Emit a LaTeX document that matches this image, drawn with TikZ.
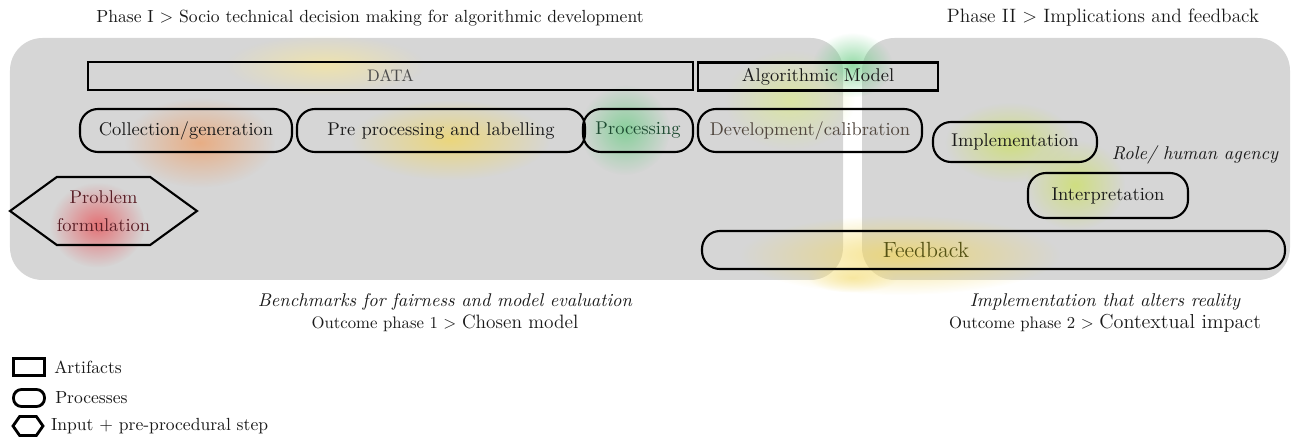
\documentclass[tikz,border=0pt]{standalone}
\usepackage{tikz}
\definecolor{panelgray}{RGB}{214,214,214}
\definecolor{inkgray}{RGB}{25,25,25}
\definecolor{datagray}{RGB}{75,75,75}
\definecolor{glowred}{RGB}{232,80,85}
\definecolor{gloworange}{RGB}{238,160,105}
\definecolor{glowyellow}{RGB}{242,215,95}
\definecolor{glowgreen}{RGB}{110,205,135}
\definecolor{glowlime}{RGB}{205,225,100}
\definecolor{textolive}{RGB}{85,82,20}
\definecolor{textred}{RGB}{90,30,38}
\definecolor{textgreen}{RGB}{30,75,50}
\definecolor{textbrown}{RGB}{80,70,62}
\usetikzlibrary{positioning,shapes.symbols,fadings}
\tikzfading[name=softglow, inner color=transparent!0, outer color=transparent!100]

\begin{document}
\begin{tikzpicture}[
    panel/.style={fill=panelgray, rounded corners=0.65cm},
    haze/.style={path fading=softglow, opacity=0.75},
    artf/.style={rectangle, draw=black, line width=1.6pt, minimum height=0.56cm,
                 inner sep=0pt, font=\fontsize{10.5}{12}\selectfont, text=inkgray},
    proc/.style={rectangle, rounded corners=0.36cm, draw=black, line width=1.2pt,
                 minimum height=0.86cm, inner sep=0pt, font=\fontsize{10.5}{12}\selectfont, text=inkgray},
    hexa/.style={signal, signal to=west and east, draw=black, line width=1.2pt,
                 inner sep=0pt, align=center},
    headtxt/.style={font=\fontsize{10}{12}\selectfont, text=inkgray, inner sep=0pt},
    notetxt/.style={font=\fontsize{10.5}{12}\selectfont\itshape, text=inkgray, inner sep=0pt},
    legtxt/.style={font=\fontsize{10}{12}\selectfont, text=inkgray, inner sep=0pt}
  ]
    \useasboundingbox (0,0) rectangle (25.94,-8.78);

    % Phase titles
    \node[headtxt] (ph1) at (7.40,-0.36) {Phase I > Socio technical decision making for algorithmic development};
    \node[headtxt, font=\fontsize{11}{13}\selectfont] (ph2) at (22.06,-0.36) {Phase II > Implications and feedback};

    % Panels
    \fill[panel] (0.20,-0.76) rectangle (16.86,-5.60);
    \fill[panel] (17.24,-0.76) rectangle (25.80,-5.60);

    % Glows
    \fill[haze, gloworange]  (4.00,-2.85) ellipse (1.5 and 0.9);
    \fill[haze, glowyellow]  (9.00,-2.80) ellipse (2.0 and 0.8);
    \fill[haze, glowyellow!60] (6.50,-1.30) ellipse (2.0 and 0.6);
    \fill[haze, glowgreen]   (12.50,-2.60) ellipse (0.9 and 0.9);
    \fill[haze, glowgreen]   (17.05,-1.30) ellipse (0.8 and 0.65);
    \fill[haze, glowlime!70] (15.80,-2.00) ellipse (1.3 and 1.0);
    \fill[haze, glowred]     (1.95,-4.50) ellipse (0.95 and 0.85);
    \fill[haze, glowlime]    (20.20,-2.85) ellipse (1.3 and 0.8);
    \fill[haze, glowlime]    (21.50,-3.70) ellipse (1.0 and 0.9);
    \fill[haze, glowyellow]  (18.00,-5.10) ellipse (3.2 and 0.8);
    \fill[haze, glowyellow!70] (17.05,-5.55) ellipse (0.9 and 0.3);

    % Artifacts
    \node[artf, minimum width=12.10cm, text=datagray,
          font=\fontsize{9.5}{11}\selectfont] (data) at (7.81,-1.52) {DATA};
    \node[artf, minimum width=4.80cm]  (algo) at (16.36,-1.53) {Algorithmic Model};

    % Processes, phase I
    \node[proc, minimum width=4.24cm] (coll) at (3.72,-2.61) {Collection/generation};
    \node[proc, minimum width=5.76cm] (prep) at (8.82,-2.61) {Pre processing and labelling};
    \node[proc, minimum width=2.20cm, text=textgreen] (proc) at (12.76,-2.61) {Processing};
    \node[proc, minimum width=4.48cm, text=textbrown] (devc) at (16.20,-2.61) {Development/calibration};

    % Input step
    \node[hexa, minimum width=3.60cm, minimum height=1.36cm, signal pointer angle=72,
          text=textred, font=\fontsize{10.5}{16}\selectfont] (prob) at (2.07,-4.22) {Problem\\formulation};

    % Processes, phase II
    \node[proc, minimum width=3.28cm, minimum height=0.80cm] (impl) at (20.30,-2.84) {Implementation};
    \node[notetxt] (role) at (23.90,-3.10) {Role/ human agency};
    \node[proc, minimum width=3.20cm, minimum height=0.90cm] (intp) at (22.16,-3.91) {Interpretation};
    \node[proc, minimum width=11.66cm, minimum height=0.76cm] (feed) at (19.87,-5.00) {};
    \node[headtxt, text=textolive, font=\fontsize{12.5}{14}\selectfont] (feedtxt) at (18.52,-5.00) {Feedback};

    % Outcomes
    \node[notetxt] (bench) at (8.90,-6.04) {Benchmarks for fairness and model evaluation};
    \node[headtxt] (out1) at (8.90,-6.46) {\fontsize{9.5}{11}\selectfont Outcome phase 1 > \fontsize{11}{13}\selectfont Chosen model};
    \node[notetxt] (alter) at (22.10,-6.04) {Implementation that alters reality};
    \node[headtxt] (out2) at (22.10,-6.46) {\fontsize{9.5}{11}\selectfont Outcome phase 2 > \fontsize{11.5}{13}\selectfont Contextual impact};

    % Legend
    \node[rectangle, draw=black, line width=1.6pt, minimum width=0.62cm, minimum height=0.34cm,
          inner sep=0pt] (legart) at (0.58,-7.34) {};
    \node[rectangle, rounded corners=0.16cm, draw=black, line width=1.6pt, minimum width=0.62cm,
          minimum height=0.34cm, inner sep=0pt] (legproc) at (0.58,-7.96) {};
    \node[hexa, line width=1.6pt, minimum width=0.60cm, minimum height=0.38cm,
          signal pointer angle=110] (leghex) at (0.56,-8.52) {};
    \node[legtxt, anchor=west, right=0.16cm of legart]  (legarttxt)  {Artifacts};
    \node[legtxt, anchor=west, right=0.18cm of legproc] (legproctxt) {Processes};
    \node[legtxt, anchor=west, right=0.12cm of leghex]  (leghextxt)  {Input + pre-procedural step};
  \end{tikzpicture}
\end{document}
